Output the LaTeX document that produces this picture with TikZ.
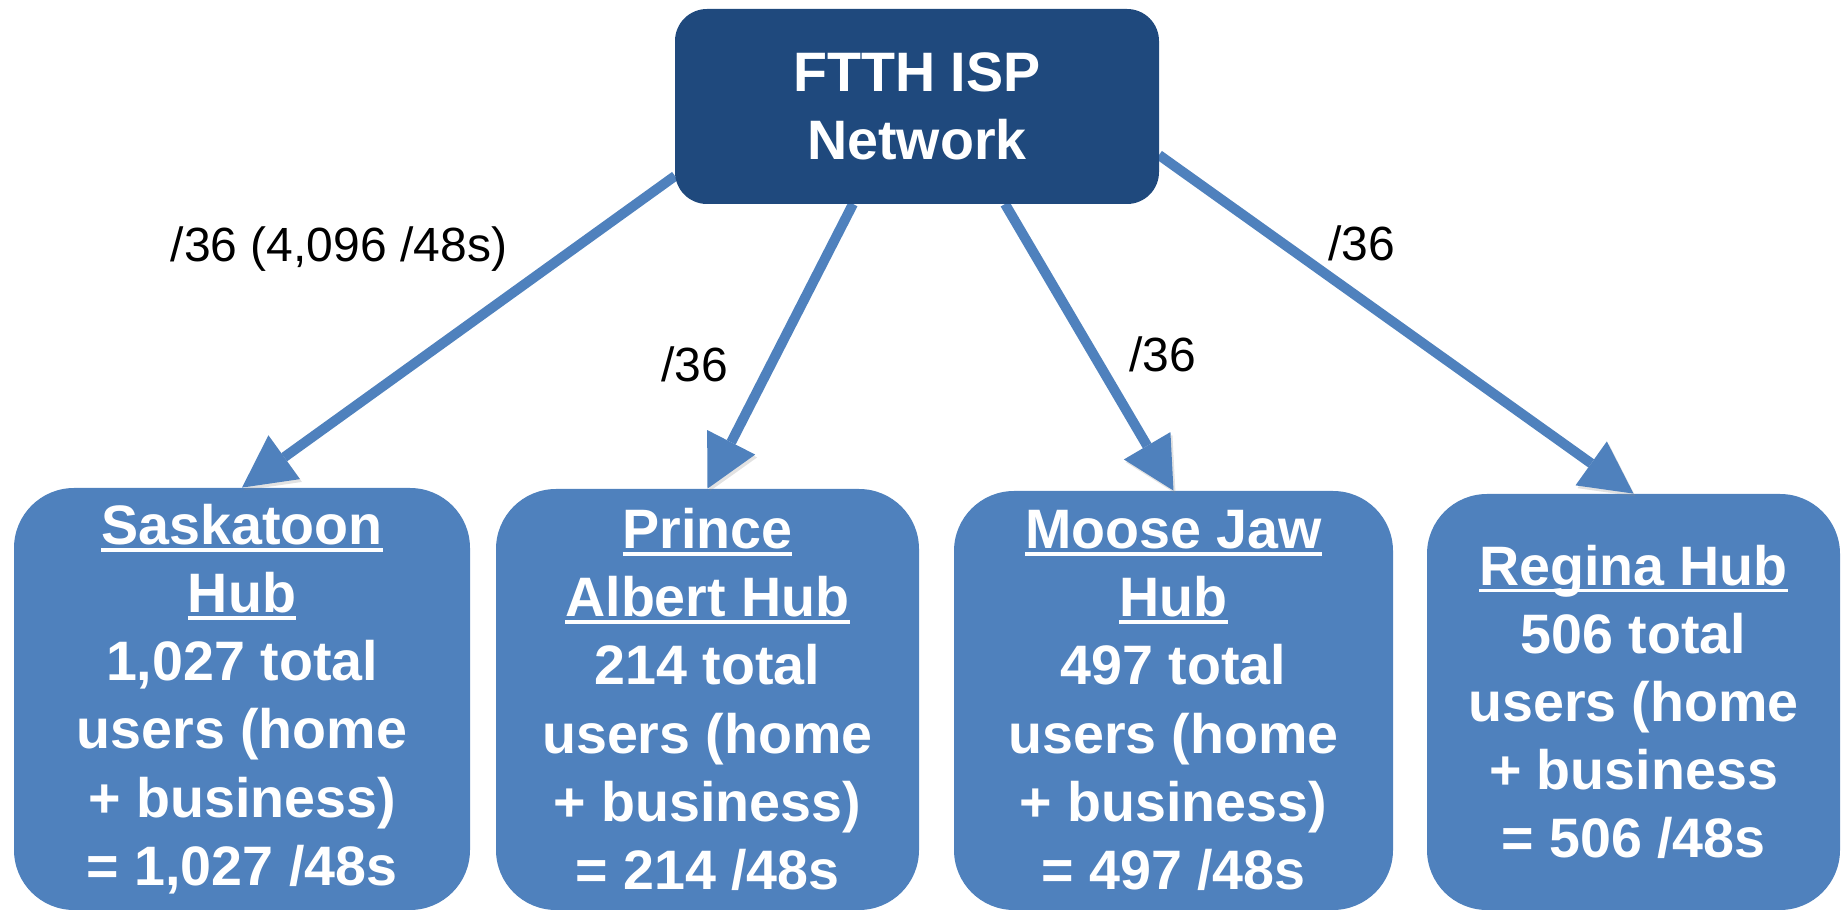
\documentclass[tikz,border=0pt]{standalone}
\usepackage{fontspec}
\setmainfont{Liberation Sans}
\usetikzlibrary{arrows.meta,calc}
\definecolor{hubblue}{RGB}{79,129,189}
\definecolor{topblue}{RGB}{31,73,125}
\newcommand{\hubul}[1]{\setbox0\hbox{#1}\rlap{\rule[-3.6pt]{\wd0}{1.8pt}}\box0}
\tikzset{
  hubbox/.style={rectangle, rounded corners=30pt, fill=hubblue, draw=none, inner sep=0pt,
    text=white, align=center, font=\bfseries\fontsize{27.8}{34.1}\selectfont},
  topbox/.style={rectangle, rounded corners=16pt, fill=topblue, draw=none, inner sep=0pt,
    text=white, align=center, font=\bfseries\fontsize{27.8}{34.1}\selectfont},
  link/.style={draw=hubblue, line width=5pt,
    -{Triangle[length=26pt,width=27pt,line width=0pt]},
    preaction={draw=black!45, opacity=0.25, transform canvas={shift={(1pt,-1.4pt)}}}},
  lbl/.style={font=\fontsize{24}{28.8}\selectfont, inner sep=0pt, anchor=base}
}
\begin{document}
\begin{tikzpicture}[x=0.5pt,y=-0.5pt]
\useasboundingbox (0,0) rectangle (1843,913);
\coordinate (s1) at (675,176);
\coordinate (s2) at (853,204);
\coordinate (s3) at (1005,204);
\coordinate (s4) at (1159,155);
\node[hubbox, minimum width=228pt, minimum height=211pt] (sask) at (242,699) {\hubul{Saskatoon}\\\hubul{Hub}\\1,027 total\\users (home\\+ business)\\= 1,027 /48s};
\node[hubbox, minimum width=211.5pt, minimum height=210.5pt] (pa) at (707.5,699.5) {\hubul{Prince}\\\hubul{Albert Hub}\\214 total\\users (home\\+ business)\\= 214 /48s};
\node[hubbox, minimum width=219.5pt, minimum height=209.5pt] (mj) at (1173.5,700.5) {\hubul{Moose Jaw}\\\hubul{Hub}\\497 total\\users (home\\+ business)\\= 497 /48s};
\node[hubbox, minimum width=206.5pt, minimum height=208pt] (reg) at (1633.5,702) {\hubul{Regina Hub}\\506 total\\users (home\\+ business\\= 506 /48s};
\draw[link] (s1) -- (sask.north);
\draw[link] (s2) -- (pa.north);
\draw[link] (s3) -- (mj.north);
\draw[link] (s4) -- (reg.north);
\node[topbox, minimum width=242pt, minimum height=97.5pt] (top) at (917,106.5) {FTTH ISP\\Network};
\node[lbl] (l1) at (339,262) {/36 (4,096 /48s)};
\node[lbl] (l2) at (695,382) {/36};
\node[lbl] (l3) at (1163,372) {/36};
\node[lbl] (l4) at (1362,261) {/36};
\end{tikzpicture}
\end{document}
